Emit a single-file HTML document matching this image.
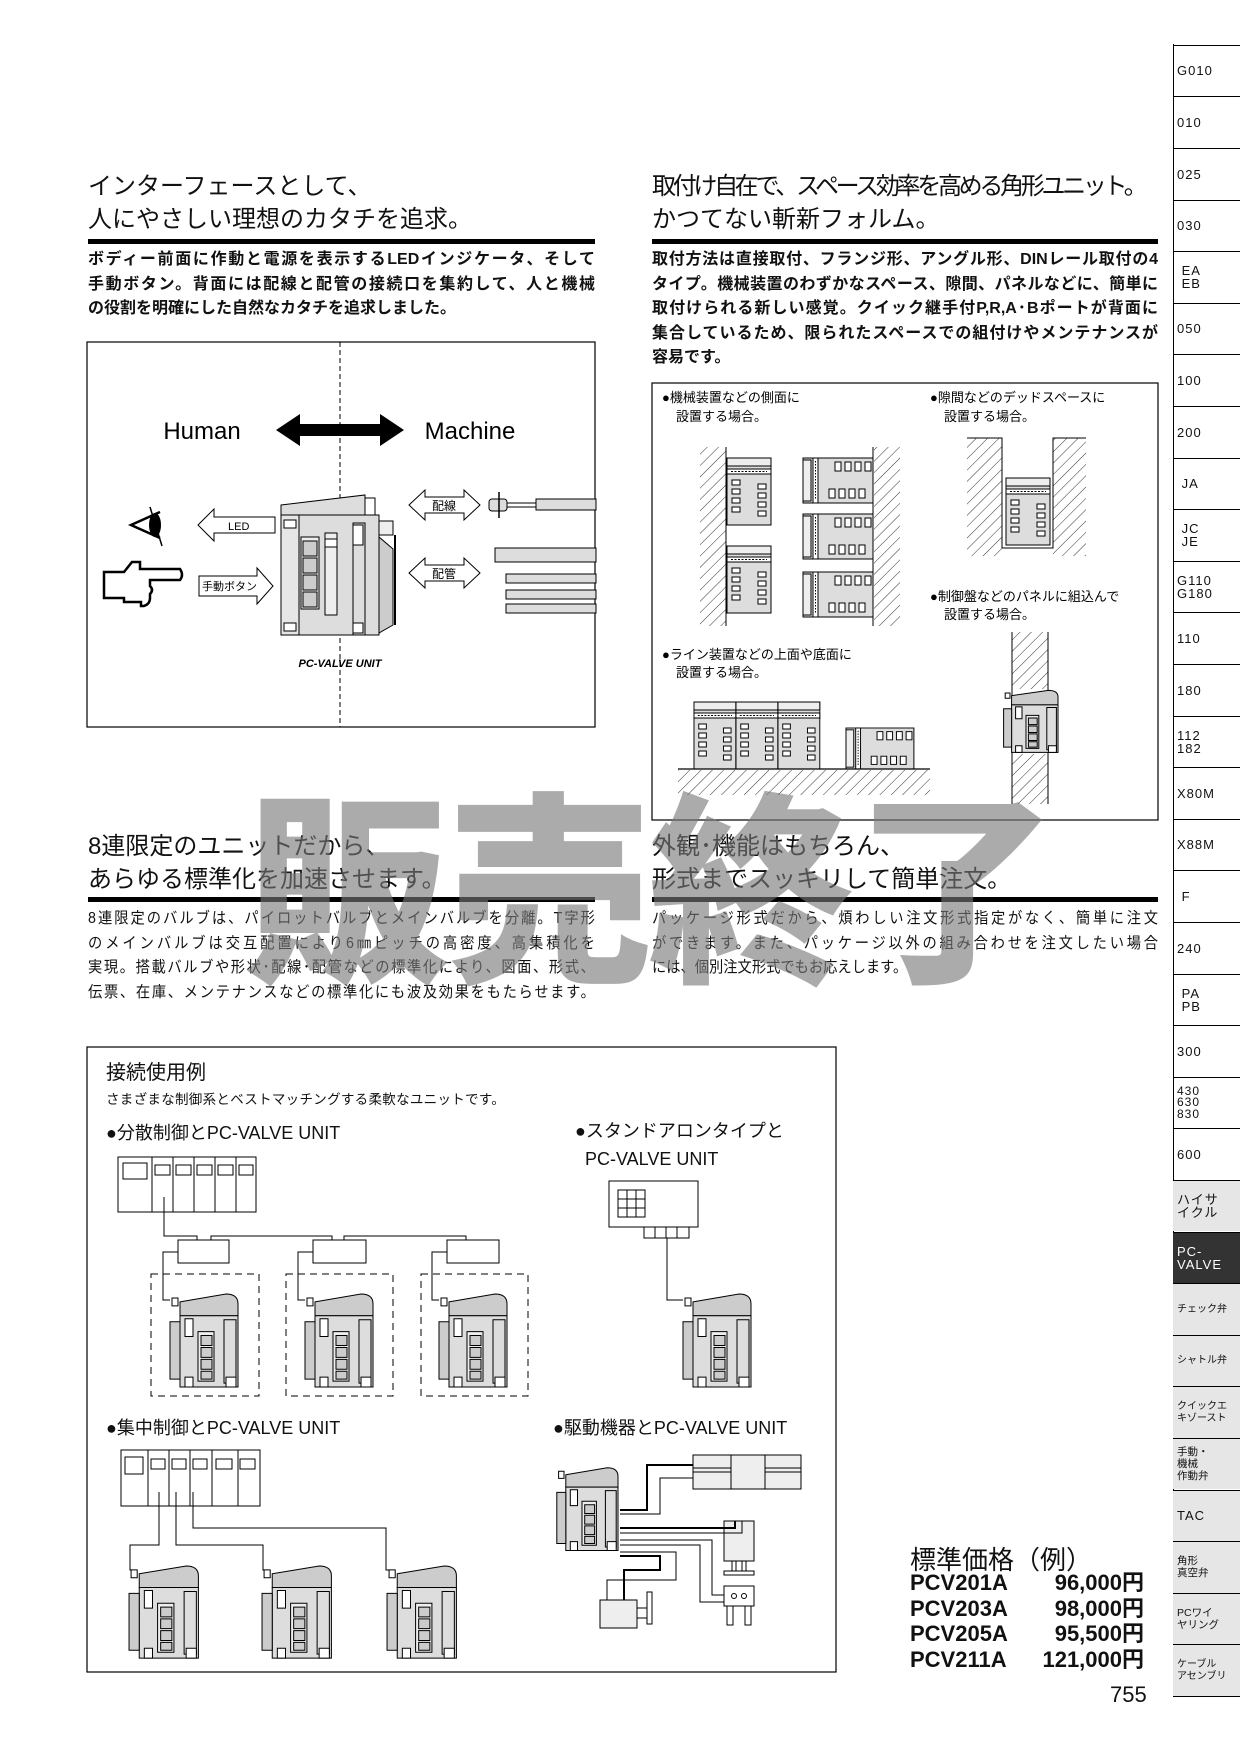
<!DOCTYPE html>
<html><head><meta charset="utf-8">
<style>
html,body{margin:0;padding:0;background:#fff;}
#pg{position:relative;width:1240px;height:1754px;overflow:hidden;background:#fff;font-family:"Liberation Sans","Noto Sans CJK JP",sans-serif;color:#111;}
.a{position:absolute;white-space:nowrap;}
.h{font-size:24px;line-height:33px;}
.rule{position:absolute;height:5px;background:#000;}
.j{position:absolute;font-size:16px;line-height:24.5px;font-weight:bold;text-align:justify;text-align-last:justify;}
.j div{white-space:nowrap;text-align-last:justify;}
.c{position:absolute;font-size:15.5px;line-height:24.7px;text-align-last:justify;transform:scaleX(0.92);transform-origin:left top;}
.c div{white-space:nowrap;}
svg{position:absolute;left:0;top:0;}
.tab{position:absolute;left:1173px;width:67px;height:51.6px;border-top:1px solid #000;box-sizing:border-box;font-size:13px;line-height:13px;padding:0 0 0 4px;letter-spacing:1px;display:flex;align-items:center;}
.wm{position:absolute;font-family:"Noto Sans CJK JP",sans-serif;font-weight:900;font-size:205px;color:rgba(120,120,120,0.62);line-height:1;white-space:nowrap;}
</style></head><body><div id="pg">

<div class="a h" style="left:88px;top:170px;">インターフェースとして、<br>人にやさしい理想のカタチを追求。</div>
<div class="rule" style="left:88px;top:239px;width:507px;"></div>
<div class="j" style="left:88px;top:248px;width:507px;">
<div>ボディー前面に作動と電源を表示するLEDインジケータ、そして</div>
<div>手動ボタン。背面には配線と配管の接続口を集約して、人と機械</div>
<div style="text-align-last:left">の役割を明確にした自然なカタチを追求しました。</div>
</div>

<div class="a h" style="left:652px;top:170px;"><span style="letter-spacing:-3.3px;">取付け自在で、スペース効率を高める角形ユニット。</span><br>かつてない斬新フォルム。</div>
<div class="rule" style="left:652px;top:239px;width:506px;"></div>
<div class="j" style="left:652px;top:248px;width:506px;">
<div>取付方法は直接取付、フランジ形、アングル形、DINレール取付の4</div>
<div>タイプ。機械装置のわずかなスペース、隙間、パネルなどに、簡単に</div>
<div>取付けられる新しい感覚。クイック継手付P,R,A･Bポートが背面に</div>
<div>集合しているため、限られたスペースでの組付けやメンテナンスが</div>
<div style="text-align-last:left">容易です。</div>
</div>

<div class="a h" style="left:88px;top:830px;">8連限定のユニットだから、<br>あらゆる標準化を加速させます。</div>
<div class="rule" style="left:88px;top:897px;width:507px;"></div>
<div class="c" style="left:88px;top:907px;width:551px;">
<div>8連限定のバルブは、パイロットバルブとメインバルブを分離。T字形</div>
<div>のメインバルブは交互配置により6㎜ピッチの高密度、高集積化を</div>
<div>実現。搭載バルブや形状･配線･配管などの標準化により、図面、形式、</div>
<div>伝票、在庫、メンテナンスなどの標準化にも波及効果をもたらせます。</div>
</div>
<div class="a h" style="left:652px;top:830px;">外観･機能はもちろん、<br>形式までスッキリして簡単注文。</div>
<div class="rule" style="left:652px;top:897px;width:506px;"></div>
<div class="c" style="left:652px;top:907px;width:550px;">
<div>パッケージ形式だから、煩わしい注文形式指定がなく、簡単に注文</div>
<div>ができます。また、パッケージ以外の組み合わせを注文したい場合</div>
<div style="text-align-last:left">には、個別注文形式でもお応えします。</div>
</div>

<div class="a" style="left:106px;top:1056px;font-size:20px;">接続使用例</div>
<div class="a" style="left:106px;top:1088px;font-size:13.5px;letter-spacing:0.3px;">さまざまな制御系とベストマッチングする柔軟なユニットです。</div>
<div class="a" style="left:106px;top:1119px;font-size:18px;">●分散制御とPC-VALVE UNIT</div>
<div class="a" style="left:575px;top:1117px;font-size:18px;line-height:28px;">●スタンドアロンタイプと<br>&nbsp;&nbsp;PC-VALVE UNIT</div>
<div class="a" style="left:106px;top:1414px;font-size:18px;">●集中制御とPC-VALVE UNIT</div>
<div class="a" style="left:553px;top:1414px;font-size:18px;">●駆動機器とPC-VALVE UNIT</div>

<div class="a" style="left:910px;top:1540px;font-size:26px;">標準価格（例）</div>
<div class="a" style="left:910px;top:1570px;font-size:22px;font-weight:bold;line-height:25.5px;">PCV201A<br>PCV203A<br>PCV205A<br>PCV211A</div>
<div class="a" style="left:1000px;top:1570px;width:144px;text-align:right;font-size:22px;font-weight:bold;line-height:25.5px;">96,000円<br>98,000円<br>95,500円<br>121,000円</div>
<div class="a" style="left:1110px;top:1682px;font-size:22px;">755</div>

<svg width="1240" height="1754" viewBox="0 0 1240 1754">
<defs>
<pattern id="h" width="8" height="8" patternUnits="userSpaceOnUse" patternTransform="rotate(45)"><line x1="0" y1="0" x2="0" y2="8" stroke="#000" stroke-width="0.8"/></pattern>
<g id="u">
 <path d="M12,10 L58,2 Q70,2 70,12 L70,24 L12,24 Z" fill="#ccc" stroke="#000" vector-effect="non-scaling-stroke"/>
 <rect x="4" y="6" width="6" height="8" fill="#fff" stroke="#000" vector-effect="non-scaling-stroke"/>
 <rect x="12" y="24" width="58" height="72" fill="#ddd" stroke="#000" vector-effect="non-scaling-stroke"/>
 <rect x="2" y="30" width="10" height="58" fill="#ccc" stroke="#000" vector-effect="non-scaling-stroke"/>
 <rect x="17" y="27" width="8" height="18" fill="#fff" stroke="#000" vector-effect="non-scaling-stroke"/>
 <rect x="30" y="40" width="16" height="50" fill="#eee" stroke="#000" vector-effect="non-scaling-stroke"/>
 <rect x="33" y="44" width="11" height="10" fill="#ccc" stroke="#000" vector-effect="non-scaling-stroke"/>
 <rect x="33" y="56" width="11" height="10" fill="#ccc" stroke="#000" vector-effect="non-scaling-stroke"/>
 <rect x="33" y="68" width="11" height="10" fill="#ccc" stroke="#000" vector-effect="non-scaling-stroke"/>
 <rect x="33" y="80" width="11" height="8" fill="#ccc" stroke="#000" vector-effect="non-scaling-stroke"/>
 <rect x="56" y="28" width="12" height="64" fill="none" stroke="#000" vector-effect="non-scaling-stroke"/>
 <rect x="17" y="86" width="8" height="10" fill="#fff" stroke="#000" vector-effect="non-scaling-stroke"/>
 <rect x="58" y="86" width="10" height="10" fill="#fff" stroke="#000" vector-effect="non-scaling-stroke"/>
</g>
<g id="fu">
 <rect x="0" y="0" width="44" height="67" fill="#ddd" stroke="#000"/>
 <rect x="0" y="0" width="44" height="8" fill="#eee" stroke="#000"/>
 <rect x="0" y="11" width="44" height="5" fill="#fff" stroke="#000"/>
 <line x1="4" y1="13.5" x2="40" y2="13.5" stroke="#000" stroke-dasharray="2 1.5"/>
 <rect x="5" y="22" width="8" height="5" fill="#fff" stroke="#000"/><rect x="5" y="31" width="8" height="5" fill="#fff" stroke="#000"/><rect x="5" y="40" width="8" height="5" fill="#fff" stroke="#000"/><rect x="5" y="49" width="8" height="5" fill="#fff" stroke="#000"/>
 <rect x="31" y="26" width="8" height="5" fill="#fff" stroke="#000"/><rect x="31" y="35" width="8" height="5" fill="#fff" stroke="#000"/><rect x="31" y="44" width="8" height="5" fill="#fff" stroke="#000"/><rect x="31" y="53" width="8" height="5" fill="#fff" stroke="#000"/>
</g>
<g id="su">
 <rect x="0" y="0" width="70" height="45" fill="#ddd" stroke="#000"/>
 <rect x="0" y="2" width="8" height="41" fill="#eee" stroke="#000"/>
 <rect x="10" y="0" width="5" height="45" fill="#fff" stroke="#000"/>
 <line x1="12.5" y1="3" x2="12.5" y2="42" stroke="#000" stroke-dasharray="1.5 1.5"/>
 <rect x="32" y="4" width="6" height="9" fill="#fff" stroke="#000"/><rect x="42" y="4" width="6" height="9" fill="#fff" stroke="#000"/><rect x="52" y="4" width="6" height="9" fill="#fff" stroke="#000"/><rect x="62" y="4" width="6" height="9" fill="#fff" stroke="#000"/>
 <rect x="26" y="31" width="6" height="9" fill="#fff" stroke="#000"/><rect x="36" y="31" width="6" height="9" fill="#fff" stroke="#000"/><rect x="46" y="31" width="6" height="9" fill="#fff" stroke="#000"/><rect x="56" y="31" width="6" height="9" fill="#fff" stroke="#000"/>
</g>
</defs>

<rect x="87" y="342" width="508" height="385" fill="none" stroke="#000" stroke-width="1.2"/>
<line x1="340" y1="342" x2="340" y2="727" stroke="#000" stroke-dasharray="5 3"/>
<text x="202" y="439" font-size="24" text-anchor="middle" font-family="Liberation Sans,sans-serif">Human</text>
<text x="470" y="439" font-size="24" text-anchor="middle" font-family="Liberation Sans,sans-serif">Machine</text>
<polygon points="276,430 300,414 300,424 380,424 380,414 404,430 380,446 380,436 300,436 300,446" fill="#000"/>
<polyline points="160,512 131,525 160,538" fill="none" stroke="#000" stroke-width="2.5"/>
<ellipse cx="155" cy="525" rx="6" ry="12" fill="#000"/>
<line x1="150" y1="507" x2="162" y2="546" stroke="#000" stroke-width="1.5"/>
<polygon points="198,525 214,509 214,517 275,517 275,533 214,533 214,541" fill="#fff" stroke="#000"/>
<text x="228" y="530" font-size="11">LED</text>
<path d="M104,572 L124,572 L132,562 L140,562 L140,569 L180,569 Q184,575 180,580 L150,580 L150,586 Q154,590 150,594 L150,598 Q150,604 144,606 L141,606 L141,602 L124,602 L124,598 L104,598 Z" fill="#fff" stroke="#000" stroke-width="2.5"/>
<polygon points="199,576 257,576 257,568 273,586 257,604 257,596 199,596" fill="#fff" stroke="#000"/>
<text x="202" y="590" font-size="11">手動ボタン</text>
<g transform="translate(281,495)">
 <path d="M0,10 L84,0 L84,20 L0,20 Z" fill="#ddd" stroke="#000"/>
 <rect x="84" y="3" width="10" height="18" fill="#fff" stroke="#000"/>
 <rect x="0" y="20" width="98" height="120" fill="#ddd" stroke="#000"/>
 <rect x="0" y="20" width="18" height="120" fill="#e6e6e6" stroke="#000"/>
 <rect x="3" y="25" width="12" height="8" fill="#fff" stroke="#000"/>
 <rect x="20" y="42" width="18" height="72" fill="#eee" stroke="#000"/>
 <rect x="22" y="46" width="14" height="15" fill="#ccc" stroke="#000"/><rect x="22" y="63" width="14" height="15" fill="#ccc" stroke="#000"/><rect x="22" y="80" width="14" height="15" fill="#ccc" stroke="#000"/><rect x="22" y="97" width="14" height="15" fill="#ccc" stroke="#000"/>
 <rect x="44" y="38" width="12" height="82" fill="#eee" stroke="#000"/>
 <rect x="44" y="44" width="12" height="8" fill="#fff" stroke="#000"/>
 <rect x="72" y="28" width="12" height="112" fill="none" stroke="#000"/>
 <rect x="72" y="30" width="10" height="20" fill="#fff" stroke="#000"/>
 <rect x="72" y="128" width="10" height="10" fill="#fff" stroke="#000"/>
 <rect x="3" y="128" width="12" height="8" fill="#fff" stroke="#000"/>
 <path d="M98,42 L112,54 L112,130 L98,138 Z" fill="#ccc" stroke="#000"/>
 <rect x="98" y="26" width="14" height="14" fill="#eee" stroke="#000"/>
 <line x1="114" y1="40" x2="114" y2="130" stroke="#000" stroke-width="2"/>
</g>
<text x="340" y="667" font-size="11" font-weight="bold" font-style="italic" text-anchor="middle">PC-VALVE UNIT</text>
<polygon points="409,505 425,490 425,497 464,497 464,490 480,505 464,520 464,513 425,513 425,520" fill="#fff" stroke="#000"/>
<text x="444" y="510" font-size="12" text-anchor="middle">配線</text>
<polygon points="409,573 425,558 425,565 464,565 464,558 480,573 464,588 464,581 425,581 425,588" fill="#fff" stroke="#000"/>
<text x="444" y="578" font-size="12" text-anchor="middle">配管</text>
<rect x="489" y="499" width="18" height="12" rx="3" fill="#ddd" stroke="#000"/>
<line x1="499" y1="492" x2="499" y2="518" stroke="#000" stroke-width="1.5"/>
<line x1="507" y1="503" x2="536" y2="503" stroke="#000"/><line x1="507" y1="507" x2="536" y2="507" stroke="#000"/>
<rect x="536" y="499" width="60" height="11" fill="#ddd" stroke="#000"/>
<rect x="495" y="548" width="101" height="14" fill="#ddd" stroke="#000"/>
<rect x="506" y="574" width="90" height="9" fill="#ddd" stroke="#000"/>
<rect x="506" y="590" width="90" height="9" fill="#ddd" stroke="#000"/>
<rect x="506" y="604" width="90" height="9" fill="#ddd" stroke="#000"/>

<rect x="652" y="383" width="506" height="437" fill="none" stroke="#000" stroke-width="1.2"/>
<text x="662" y="402" font-size="13">●機械装置などの側面に</text>
<text x="676" y="421" font-size="13">設置する場合。</text>
<text x="930" y="402" font-size="13">●隙間などのデッドスペースに</text>
<text x="944" y="421" font-size="13">設置する場合。</text>
<rect x="700" y="447" width="26" height="179" fill="url(#h)"/>
<line x1="726" y1="447" x2="726" y2="626" stroke="#000"/>
<use href="#fu" x="727" y="458"/>
<use href="#fu" x="727" y="546"/>
<rect x="874" y="447" width="26" height="179" fill="url(#h)"/>
<line x1="873" y1="447" x2="873" y2="626" stroke="#000"/>
<use href="#su" x="803" y="458"/>
<use href="#su" x="803" y="514"/>
<use href="#su" x="803" y="572"/>
<rect x="967" y="438" width="35" height="118" fill="url(#h)"/>
<rect x="1053" y="438" width="33" height="118" fill="url(#h)"/>
<polyline points="967,438 1002,438 1002,548 1053,548 1053,438 1086,438" fill="none" stroke="#000"/>
<use href="#fu" x="1006" y="478"/>
<text x="930" y="601" font-size="13">●制御盤などのパネルに組込んで</text>
<text x="944" y="619" font-size="13">設置する場合。</text>
<rect x="1012" y="632" width="36" height="57" fill="url(#h)"/>
<rect x="1012" y="754" width="36" height="50" fill="url(#h)"/>
<line x1="1012" y1="632" x2="1012" y2="804" stroke="#000"/><line x1="1048" y1="632" x2="1048" y2="804" stroke="#000"/>
<g transform="translate(1002,689) scale(0.8,0.66)"><use href="#u"/></g>
<text x="662" y="659" font-size="13">●ライン装置などの上面や底面に</text>
<text x="676" y="677" font-size="13">設置する場合。</text>
<g transform="translate(694,702) scale(0.95,1)"><use href="#fu"/></g>
<g transform="translate(736,702) scale(0.95,1)"><use href="#fu"/></g>
<g transform="translate(778,702) scale(0.95,1)"><use href="#fu"/></g>
<g transform="translate(846,728) scale(0.97,0.91)"><use href="#su"/></g>
<line x1="678" y1="769" x2="930" y2="769" stroke="#000" stroke-width="1.2"/>
<rect x="678" y="770" width="252" height="25" fill="url(#h)"/>

<rect x="87" y="1047" width="749" height="625" fill="none" stroke="#000" stroke-width="1.2"/>
<g fill="#fff" stroke="#000">
<rect x="118" y="1157" width="138" height="55"/>
<line x1="152" y1="1157" x2="152" y2="1212"/><line x1="173" y1="1157" x2="173" y2="1212"/><line x1="194" y1="1157" x2="194" y2="1212"/><line x1="215" y1="1157" x2="215" y2="1212"/><line x1="236" y1="1157" x2="236" y2="1212"/>
<rect x="123" y="1163" width="24" height="16"/>
<rect x="155" y="1165" width="15" height="10"/><rect x="176" y="1165" width="15" height="10"/><rect x="197" y="1165" width="15" height="10"/><rect x="218" y="1165" width="15" height="10"/><rect x="239" y="1165" width="14" height="10"/>
<rect x="178" y="1240" width="51" height="23"/><rect x="313" y="1240" width="53" height="23"/><rect x="447" y="1240" width="52" height="23"/>
<polyline points="164,1197 164,1236 197,1236 197,1240" fill="none"/>
<polyline points="211,1240 211,1236 332,1236 332,1240" fill="none"/>
<polyline points="344,1240 344,1236 466,1236 466,1240" fill="none"/>
<polyline points="178,1252 163,1252 163,1300 170,1300" fill="none"/>
<polyline points="313,1252 298,1252 298,1300 305,1300" fill="none"/>
<polyline points="447,1252 432,1252 432,1300 439,1300" fill="none"/>
</g>
<g fill="none" stroke="#000" stroke-dasharray="7 5">
<rect x="151" y="1274" width="108" height="122"/><rect x="286" y="1274" width="107" height="122"/><rect x="421" y="1274" width="107" height="122"/>
</g>
<g transform="translate(168,1292) scale(1,0.99)"><use href="#u"/></g>
<g transform="translate(303,1292) scale(1,0.99)"><use href="#u"/></g>
<g transform="translate(437,1292) scale(1,0.99)"><use href="#u"/></g>
<g fill="#fff" stroke="#000">
<rect x="609" y="1181" width="89" height="46"/>
<rect x="618" y="1190" width="27" height="27"/>
<line x1="627" y1="1190" x2="627" y2="1217"/><line x1="636" y1="1190" x2="636" y2="1217"/><line x1="618" y1="1199" x2="645" y2="1199"/><line x1="618" y1="1208" x2="645" y2="1208"/>
<rect x="644" y="1227" width="45" height="11"/>
<line x1="655" y1="1227" x2="655" y2="1238"/><line x1="666" y1="1227" x2="666" y2="1238"/><line x1="677" y1="1227" x2="677" y2="1238"/>
<polyline points="667,1238 667,1300 683,1300" fill="none"/>
</g>
<g transform="translate(681,1292) scale(1,0.99)"><use href="#u"/></g>
<g fill="#fff" stroke="#000">
<rect x="121" y="1450" width="139" height="56"/>
<line x1="148" y1="1450" x2="148" y2="1506"/><line x1="169" y1="1450" x2="169" y2="1506"/><line x1="190" y1="1450" x2="190" y2="1506"/><line x1="212" y1="1450" x2="212" y2="1506"/><line x1="238" y1="1450" x2="238" y2="1506"/>
<rect x="125" y="1457" width="18" height="17"/>
<rect x="151" y="1459" width="14" height="10"/><rect x="172" y="1459" width="14" height="10"/><rect x="193" y="1459" width="14" height="10"/><rect x="216" y="1459" width="16" height="10"/><rect x="240" y="1459" width="15" height="10"/>
<polyline points="159,1492 159,1545 130,1545 130,1570 137,1570" fill="none"/>
<polyline points="176,1492 176,1545 263,1545 263,1570 270,1570" fill="none"/>
<polyline points="193,1492 193,1528 386,1528 386,1570 393,1570" fill="none"/>
</g>
<g transform="translate(127,1564) scale(1.02,0.98)"><use href="#u"/></g>
<g transform="translate(260,1564) scale(1.02,0.98)"><use href="#u"/></g>
<g transform="translate(385,1564) scale(1.02,0.98)"><use href="#u"/></g>
<g transform="translate(555,1466) scale(0.9,0.88)"><use href="#u"/></g>
<g fill="#fff" stroke="#000">
<rect x="693" y="1455" width="108" height="34" fill="#eee"/>
<line x1="731" y1="1455" x2="731" y2="1489"/><line x1="765" y1="1455" x2="765" y2="1489"/>
<line x1="693" y1="1468" x2="731" y2="1468"/><line x1="693" y1="1472" x2="731" y2="1472"/><line x1="765" y1="1468" x2="801" y2="1468"/><line x1="765" y1="1472" x2="801" y2="1472"/>
<rect x="724" y="1521" width="30" height="40" fill="#eee"/>
<rect x="732" y="1561" width="4" height="10"/><rect x="742" y="1561" width="4" height="10"/>
<rect x="724" y="1571" width="30" height="4"/>
<rect x="724" y="1586" width="30" height="20"/>
<circle cx="734" cy="1596" r="2.5"/><circle cx="744" cy="1596" r="2.5"/>
<rect x="727" y="1606" width="6" height="19"/><rect x="745" y="1606" width="6" height="19"/>
<rect x="600" y="1600" width="37" height="28" fill="#eee"/>
<rect x="637" y="1608" width="10" height="10"/>
<rect x="647" y="1592" width="5" height="32"/>
<polyline points="620,1510 647,1510 647,1465 693,1465" fill="none" stroke-width="2"/>
<polyline points="620,1514 660,1514 660,1478 693,1478" fill="none"/>
<polyline points="620,1528 735,1528 735,1521" fill="none" stroke-width="2"/>
<polyline points="620,1533 742,1533 742,1521" fill="none"/>
<polyline points="620,1540 712,1540 712,1595 724,1595" fill="none"/>
<polyline points="620,1545 700,1545 700,1602 724,1602" fill="none"/>
<polyline points="620,1552 676,1552 676,1580 607,1580 607,1600" fill="none"/>
<polyline points="620,1556 660,1556 660,1570 624,1570 624,1600" fill="none" stroke-width="2"/>
</g>
</svg>

<div style="position:absolute;left:1173px;top:44px;width:1px;height:1653px;background:#000;"></div>
<div class="tab" style="top:44.7px;">G010</div>
<div class="tab" style="top:96.3px;">010</div>
<div class="tab" style="top:147.9px;">025</div>
<div class="tab" style="top:199.5px;">030</div>
<div class="tab" style="top:251.1px;">&nbsp;EA<br>&nbsp;EB</div>
<div class="tab" style="top:302.7px;">050</div>
<div class="tab" style="top:354.3px;">100</div>
<div class="tab" style="top:405.9px;">200</div>
<div class="tab" style="top:457.5px;">&nbsp;JA</div>
<div class="tab" style="top:509.1px;">&nbsp;JC<br>&nbsp;JE</div>
<div class="tab" style="top:560.7px;">G110<br>G180</div>
<div class="tab" style="top:612.3px;">110</div>
<div class="tab" style="top:663.9px;">180</div>
<div class="tab" style="top:715.5px;">112<br>182</div>
<div class="tab" style="top:767.1px;">X80M</div>
<div class="tab" style="top:818.7px;">X88M</div>
<div class="tab" style="top:870.3px;">&nbsp;F</div>
<div class="tab" style="top:921.9px;">240</div>
<div class="tab" style="top:973.5px;">&nbsp;PA<br>&nbsp;PB</div>
<div class="tab" style="top:1025.1px;">300</div>
<div class="tab" style="top:1076.7px;line-height:11.5px;font-size:12px;">430<br>630<br>830</div>
<div class="tab" style="top:1128.3px;">600</div>
<div class="tab" style="top:1179.9px;background:#e6e6e6;">ハイサ<br>イクル</div>
<div class="tab" style="top:1231.5px;background:#333;color:#fff;">PC-<br>VALVE</div>
<div class="tab" style="top:1283.1px;background:#e6e6e6;font-size:10px;letter-spacing:0;">チェック弁</div>
<div class="tab" style="top:1334.7px;background:#e6e6e6;font-size:10px;letter-spacing:0;">シャトル弁</div>
<div class="tab" style="top:1386.3px;background:#e6e6e6;font-size:10px;line-height:12px;letter-spacing:0;">クイックエ<br>キゾースト</div>
<div class="tab" style="top:1437.9px;background:#e6e6e6;font-size:10.5px;line-height:12px;letter-spacing:0;">手動・<br>機械<br>作動弁</div>
<div class="tab" style="top:1489.5px;background:#e6e6e6;">TAC</div>
<div class="tab" style="top:1541.1px;background:#e6e6e6;font-size:10.5px;line-height:12px;letter-spacing:0;">角形<br>真空弁</div>
<div class="tab" style="top:1592.7px;background:#e6e6e6;font-size:10.5px;line-height:12px;letter-spacing:0;">PCワイ<br>ヤリング</div>
<div class="tab" style="top:1644.3px;background:#e6e6e6;font-size:10px;line-height:12px;letter-spacing:0;border-bottom:1px solid #000;height:53px;">ケーブル<br>アセンブリ</div>

<div class="wm" style="left:245px;top:775px;">販</div>
<div class="wm" style="left:447px;top:775px;">売</div>
<div class="wm" style="left:648px;top:775px;">終</div>
<div class="wm" style="left:853px;top:775px;">了</div>

</div></body></html>
